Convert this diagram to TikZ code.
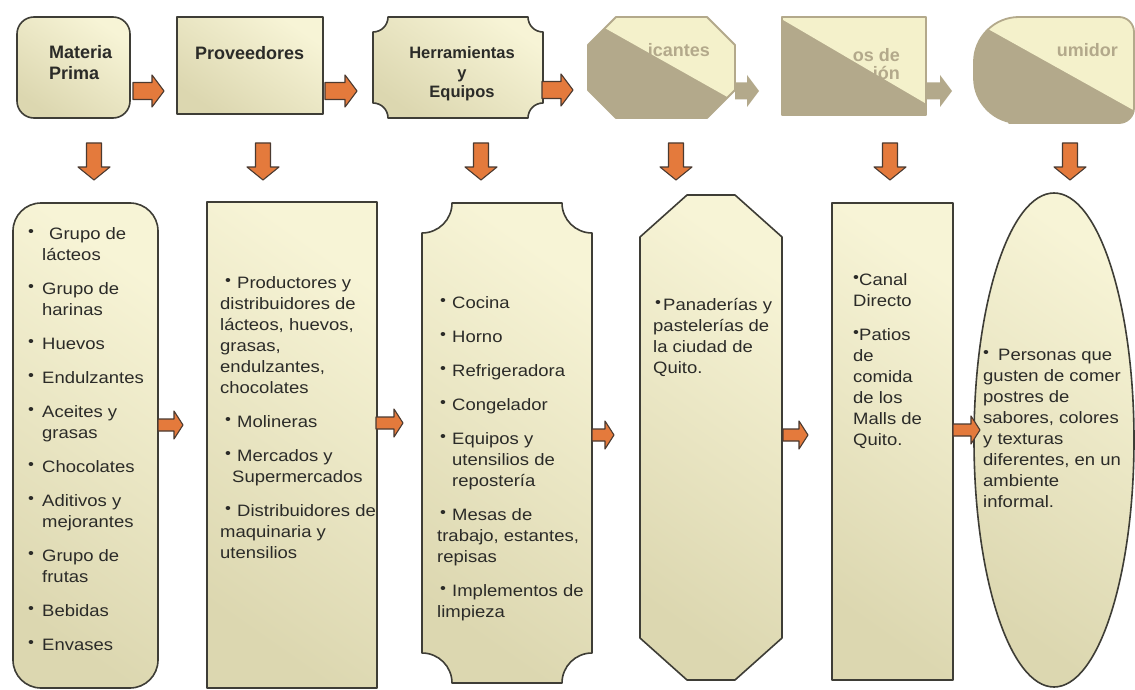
\documentclass[tikz,border=0pt]{standalone}
\usepackage{fontspec}
\setmainfont{Liberation Sans}
\newfontfamily\bodyfont{Liberation Sans}[FakeStretch=1.12]
\usepackage{tikz}
\usetikzlibrary{calc}

\definecolor{boxlight}{HTML}{F7F4D6}
\definecolor{boxdark}{HTML}{DCD7B0}
\definecolor{boxedge}{HTML}{3E3D36}
\definecolor{arrfill}{HTML}{E47A3C}
\definecolor{arredge}{HTML}{4B3A30}
\definecolor{fadetan}{HTML}{B3A98B}
\definecolor{fadepale}{HTML}{F4F1CB}
\definecolor{txt}{HTML}{2B2B28}

% 小圆点与缩进
\newcommand{\bul}{\raisebox{3.5pt}{\fontsize{15}{15}\selectfont •}}
\newcommand{\bi}[1]{\makebox[#1][l]{\bul}}
% 凹角矩形
\newcommand{\concave}[6][]{%
  \draw[#1] (#2+#6,#3) -- (#4-#6,#3) arc[start angle=180, end angle=90, radius=#6]
    -- (#4,#5-#6) arc[start angle=270, end angle=180, radius=#6]
    -- (#2+#6,#5) arc[start angle=0, end angle=-90, radius=#6]
    -- (#2,#3+#6) arc[start angle=90, end angle=0, radius=#6] -- cycle;}

\begin{document}
\begin{tikzpicture}[x=1pt, y=-1pt, line join=round]

    \tikzset{
      box/.style={draw=boxedge, line width=1.6pt, top color=boxlight, bottom color=boxdark, shading angle=-35},
      arr/.style={draw=arredge, line width=1.1pt, fill=arrfill},
      fadearr/.style={fill=fadetan},
      head/.style={font=\fontsize{18}{21}\selectfont\bfseries, text=txt, inner sep=0pt},
      list/.style={font=\bodyfont\fontsize{16.5}{21}\selectfont, text=txt, inner sep=0pt, align=left, anchor=base west},
      washed/.style={font=\fontsize{18}{21}\selectfont\bfseries, text=fadetan, inner sep=0pt, anchor=base east},
      rarr/.pic={\path[pic actions] (0,-8.5) -- (#1-12,-8.5) -- (#1-12,-16) -- (#1,0)
                   -- (#1-12,16) -- (#1-12,8.5) -- (0,8.5) -- cycle;},
      barr/.pic={\path[pic actions] (0,-6) -- (#1-9,-6) -- (#1-9,-14) -- (#1,0)
                   -- (#1-9,14) -- (#1-9,6) -- (0,6) -- cycle;},
      darr/.pic={\path[pic actions] (-7.5,0) -- (7.5,0) -- (7.5,24) -- (16,24) -- (0,37)
                   -- (-16,24) -- (-7.5,24) -- cycle;}
    }

    \fill[white] (0,0) rectangle (1135,690);
    \useasboundingbox (0,0) rectangle (1135,690);

    % 1. 上排方框 (多行节点的 base 取最后一行)
    \draw[box, rounded corners=17pt] (17,17) rectangle (130,118);
    \node[head, align=left, anchor=base west] (mp) at (49,80) {Materia\\Prima};

    \draw[box] (177,17) rectangle (323,114);
    \node[head, anchor=base west] (prov) at (195,60) {Proveedores};

    \concave[box]{373}{17}{543}{118}{15}
    \node[head, font=\fontsize{16.5}{19.5}\selectfont\bfseries, align=center, anchor=base] (herr) at (462,98) {Herramientas\\y\\Equipos};

    % 2. 褪色的三个方框
    \begin{scope}
      \clip (616,17) -- (707,17) -- (735,45) -- (735,90) -- (707,118) -- (616,118) -- (588,90) -- (588,45) -- cycle;
      \fill[fadetan] (580,10) rectangle (740,125);
      \fill[fadepale] (555,0) -- (786,130) -- (800,130) -- (800,0) -- cycle;
    \end{scope}
    \draw[fadetan, line width=1.8pt] (616,17) -- (707,17) -- (735,45) -- (735,90) -- (707,118) -- (616,118) -- (588,90) -- (588,45) -- cycle;
    \node[washed] (fab) at (710,57) {icantes};

    \begin{scope}
      \clip (782,17) rectangle (926,115);
      \fill[fadetan] (782,17) rectangle (926,115);
      \fill[fadepale] (749,0) -- (971,130) -- (1000,130) -- (1000,0) -- cycle;
    \end{scope}
    \draw[fadetan, line width=1.8pt] (782,17) rectangle (926,115);
    \node[washed] (pto) at (900,62) {os de};
    \node[washed] (dis) at (900,80) {ión};

    \begin{scope}
      \clip[rounded corners=45pt] (1054,17) -- (974,17) -- (974,123) -- (1054,123)
        [rounded corners=15pt] -- (1134,123) -- (1134,17) -- cycle;
      \fill[fadetan] (970,10) rectangle (1140,130);
      \fill[fadepale] (936,0) -- (1187,140) -- (1200,140) -- (1200,0) -- cycle;
    \end{scope}
    \draw[fadetan, line width=1.8pt, rounded corners=45pt] (1054,17) -- (974,17) -- (974,123) -- (1054,123)
        [rounded corners=15pt] -- (1134,123) -- (1134,17) -- cycle;
    \node[washed] (con) at (1118,57) {umidor};

    % 3. 上排箭头
    \pic[arr] (a1) at (133,91) {rarr=31};
    \pic[arr] (a2) at (325,91) {rarr=32};
    \pic[arr] (a3) at (542,90) {rarr=31};
    \pic[fadearr] (a4) at (735,91) {rarr=24};
    \pic[fadearr] (a5) at (926,91) {rarr=26};

    % 4. 向下箭头
    \foreach \x [count=\i] in {94,263,481,676,890,1070}
      \pic[arr] (d\i) at (\x,143) {darr};

    % 5. 下排方框
    \draw[box, rounded corners=28pt] (13,203) rectangle (158,688);
    \draw[box] (207,202) rectangle (377,688);
    \concave[box]{422}{203}{592}{683}{30}
    \draw[box] (687,195) -- (735,195) -- (782,237) -- (782,638) -- (735,680) -- (687,680) -- (640,638) -- (640,237) -- cycle;
    \draw[box] (832,203) rectangle (953,680);
    \draw[box] (1054,440) ellipse [x radius=80, y radius=247];

    % 6. 下排箭头
    \pic[arr] (b1) at (158,425) {barr=25};
    \pic[arr] (b2) at (376,423) {barr=27};
    \pic[arr] (b3) at (592,435) {barr=22};
    \pic[arr] (b4) at (783,435) {barr=25};
    \pic[arr] (b5) at (953,430) {barr=27};

    % 7. 列表文字 (坐标为最后一行基线)
    \node[list] (mpl) at (28,650.5) {%
      \bi{14pt}\hspace{7pt}Grupo de\\\hspace*{14pt}lácteos\\[13pt]
      \bi{14pt}Grupo de\\\hspace*{14pt}harinas\\[13pt]
      \bi{14pt}Huevos\\[13pt]
      \bi{14pt}Endulzantes\\[13pt]
      \bi{14pt}Aceites y\\\hspace*{14pt}grasas\\[13pt]
      \bi{14pt}Chocolates\\[13pt]
      \bi{14pt}Aditivos y\\\hspace*{14pt}mejorantes\\[13pt]
      \bi{14pt}Grupo de\\\hspace*{14pt}frutas\\[13pt]
      \bi{14pt}Bebidas\\[13pt]
      \bi{14pt}Envases};

    \node[list] (provl) at (220,558.5) {%
      \hspace*{5pt}\bi{12pt}Productores y\\distribuidores de\\lácteos, huevos,\\grasas,\\endulzantes,\\chocolates\\[13pt]
      \hspace*{5pt}\bi{12pt}Molineras\\[13pt]
      \hspace*{5pt}\bi{12pt}Mercados y\\\hspace*{12pt}Supermercados\\[13pt]
      \hspace*{5pt}\bi{12pt}Distribuidores de\\maquinaria y\\utensilios};

    \node[list] (herrl) at (437,617.5) {%
      \hspace*{3pt}\bi{12pt}Cocina\\[13pt]
      \hspace*{3pt}\bi{12pt}Horno\\[13pt]
      \hspace*{3pt}\bi{12pt}Refrigeradora\\[13pt]
      \hspace*{3pt}\bi{12pt}Congelador\\[13pt]
      \hspace*{3pt}\bi{12pt}Equipos y\\\hspace*{15pt}utensilios de\\\hspace*{15pt}repostería\\[13pt]
      \hspace*{3pt}\bi{12pt}Mesas de\\trabajo, estantes,\\repisas\\[13pt]
      \hspace*{3pt}\bi{12pt}Implementos de\\limpieza};

    \node[list] (fabl) at (653,373.5) {%
      \hspace*{2pt}\bi{8pt}Panaderías y\\pastelerías de\\la ciudad de\\Quito.};

    \node[list] (ptol) at (853,445.5) {%
      \bi{6pt}Canal\\Directo\\[13pt]
      \bi{6pt}Patios\\de\\comida\\de los\\Malls de\\Quito.};

    \node[list] (conl) at (983,507.5) {%
      \bi{15pt}Personas que\\gusten de comer\\postres de\\sabores, colores\\y texturas\\diferentes, en un\\ambiente\\informal.};

\end{tikzpicture}
\end{document}
